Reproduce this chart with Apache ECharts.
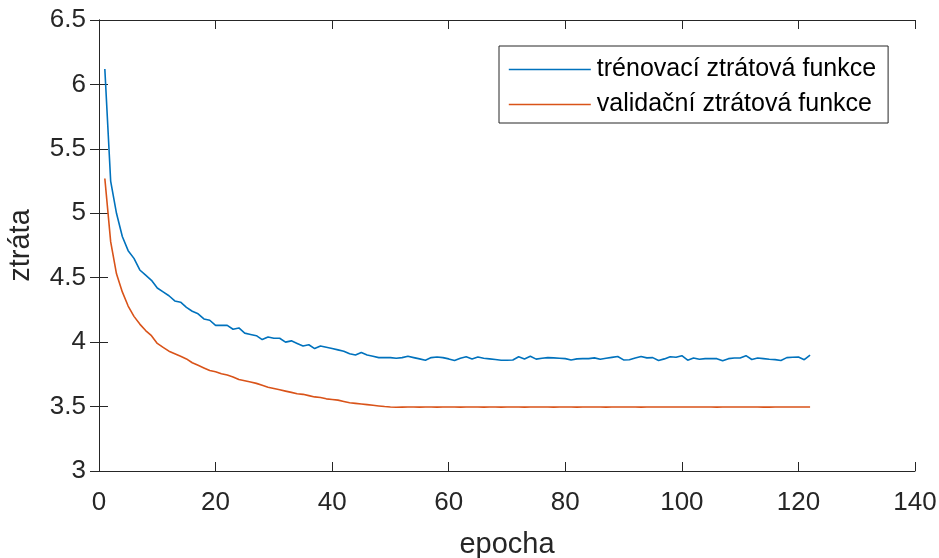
<!DOCTYPE html>
<html>
<head>
<meta charset="utf-8">
<script src="https://cdn.jsdelivr.net/npm/echarts@6/dist/echarts.min.js"></script>
<style>
  * { margin: 0; padding: 0; }
  body { background: #fff; }
  #chart { width: 939px; height: 558px; }
</style>
</head>
<body>
<div id="chart"></div>
<script>
// trénovací ztráta po epochách (epocha 1..122)
const trainLoss = [
  6.12, 5.25, 5.00, 4.82, 4.71, 4.65, 4.56, 4.52, 4.48, 4.42,
  4.39, 4.36, 4.32, 4.31, 4.27, 4.24, 4.22, 4.18, 4.17, 4.13,
  4.13, 4.13, 4.10, 4.11, 4.07, 4.06, 4.05, 4.02, 4.04, 4.03,
  4.03, 4.00, 4.01, 3.99, 3.97, 3.98, 3.95, 3.97, 3.96, 3.95,
  3.94, 3.93, 3.91, 3.90, 3.92, 3.90, 3.89, 3.88, 3.88, 3.88,
  3.875, 3.88, 3.89, 3.88, 3.87, 3.86, 3.88, 3.885, 3.88, 3.87,
  3.857, 3.875, 3.887, 3.87, 3.885, 3.875, 3.87, 3.865, 3.86, 3.86,
  3.862, 3.887, 3.87, 3.89, 3.868, 3.875, 3.88, 3.878, 3.875, 3.872,
  3.862, 3.87, 3.872, 3.872, 3.878, 3.867, 3.875, 3.882, 3.889, 3.862,
  3.863, 3.877, 3.889, 3.878, 3.88, 3.858, 3.87, 3.887, 3.883, 3.895,
  3.86, 3.877, 3.867, 3.872, 3.873, 3.872, 3.855, 3.872, 3.877, 3.877,
  3.895, 3.865, 3.877, 3.872, 3.867, 3.864, 3.858, 3.88, 3.883, 3.885,
  3.864, 3.90
];
// validační ztráta
const valLoss = [
  5.27, 4.78, 4.53, 4.39, 4.28, 4.20, 4.14, 4.09, 4.05, 3.99,
  3.96, 3.93, 3.91, 3.89, 3.87, 3.84, 3.82, 3.80, 3.78, 3.77,
  3.755, 3.745, 3.73, 3.71, 3.70, 3.69, 3.68, 3.665, 3.65, 3.64,
  3.63, 3.62, 3.61, 3.60, 3.595, 3.585, 3.575, 3.57, 3.56, 3.555,
  3.55, 3.54, 3.53, 3.525, 3.52, 3.515, 3.51, 3.505, 3.50, 3.497,
  3.495, 3.496, 3.497, 3.497, 3.496, 3.497, 3.497, 3.496, 3.497, 3.497,
  3.497, 3.496, 3.497, 3.497, 3.497, 3.496, 3.497, 3.497, 3.496, 3.497,
  3.497, 3.497, 3.496, 3.497, 3.497, 3.497, 3.497, 3.496, 3.497, 3.497,
  3.497, 3.496, 3.497, 3.497, 3.497, 3.497, 3.496, 3.497, 3.497, 3.497,
  3.497, 3.497, 3.496, 3.497, 3.497, 3.497, 3.497, 3.497, 3.497, 3.497,
  3.497, 3.497, 3.497, 3.497, 3.497, 3.496, 3.497, 3.497, 3.497, 3.497,
  3.497, 3.497, 3.497, 3.496, 3.496, 3.497, 3.497, 3.497, 3.497, 3.497,
  3.497, 3.497
];
const xTicks = { min: 0, max: 140, step: 20 };
const yTicks = { min: 3, max: 6.5, step: 0.5 };
const seriesNames = ["trénovací ztrátová funkce", "validační ztrátová funkce"];

const FONT = "'Liberation Sans', Arial, Helvetica, sans-serif";
const AX = "#262626";

const toPairs = (arr) => arr.map((v, i) => [i + 1, v]);

const chart = echarts.init(document.getElementById("chart"), null, { renderer: "canvas" });

const baseAxis = {
  type: "value",
  axisLine: { show: true, lineStyle: { color: AX, width: 1 } },
  axisTick: { show: true, inside: true, length: 9, lineStyle: { color: AX, width: 1 } },
  splitLine: { show: false },
};

const option = {
  animation: false,
  backgroundColor: "#fff",
  grid: { left: 99, right: 24, top: 20, bottom: 87, containLabel: false, outerBoundsMode: "none" },
  legend: {
    orient: "vertical",
    left: 499,
    top: 46,
    padding: [11, 12, 6, 9],
    itemWidth: 82,
    itemHeight: 25,
    itemGap: 10,
    backgroundColor: "#fff",
    borderColor: AX,
    borderWidth: 1,
    borderRadius: 0,
    itemStyle: { opacity: 0 },
    lineStyle: { width: 1.6 },
    textStyle: { fontFamily: FONT, fontSize: 25, color: "#000", padding: [0, 0, 0, 1] },
    data: seriesNames,
  },
  xAxis: [
    Object.assign({}, baseAxis, {
      min: xTicks.min, max: xTicks.max, interval: xTicks.step,
      position: "bottom",
      name: "epocha",
      nameLocation: "middle",
      nameGap: 59,
      nameTextStyle: { fontFamily: FONT, fontSize: 29, color: AX },
      axisLabel: { fontFamily: FONT, fontSize: 26, color: AX, margin: 19 },
    }),
    Object.assign({}, baseAxis, {
      min: xTicks.min, max: xTicks.max, interval: xTicks.step,
      position: "top",
      axisLabel: { show: false },
    }),
  ],
  yAxis: [
    Object.assign({}, baseAxis, {
      min: yTicks.min, max: yTicks.max, interval: yTicks.step,
      position: "left",
      name: "ztráta",
      nameLocation: "middle",
      nameGap: 64,
      nameTextStyle: { fontFamily: FONT, fontSize: 29, color: AX },
      axisLabel: { fontFamily: FONT, fontSize: 26, color: AX, margin: 13 },
    }),
    Object.assign({}, baseAxis, {
      min: yTicks.min, max: yTicks.max, interval: yTicks.step,
      position: "right",
      axisLabel: { show: false },
    }),
  ],
  series: [
    {
      name: seriesNames[0],
      type: "line",
      data: toPairs(trainLoss),
      symbol: "none",
      color: "#0072BD",
      lineStyle: { color: "#0072BD", width: 1.6 },
    },
    {
      name: seriesNames[1],
      type: "line",
      data: toPairs(valLoss),
      symbol: "none",
      color: "#D95319",
      lineStyle: { color: "#D95319", width: 1.6 },
    },
  ],
};
chart.setOption(option);
</script>
</body>
</html>
